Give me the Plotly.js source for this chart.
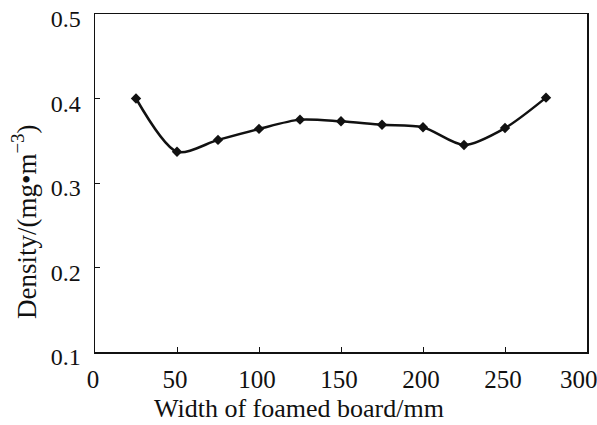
<!DOCTYPE html>
<html><head><meta charset="utf-8">
<script src="https://cdn.plot.ly/plotly-3.0.1.min.js"></script>
<style>body{margin:0}#c{width:597px;height:425px}</style>
</head><body><div id="c"></div>
<script>
const widths = [25, 50, 75, 100, 125, 150, 175, 200, 225, 250, 275];
const density = [0.400, 0.337, 0.351, 0.364, 0.375, 0.373, 0.369, 0.366, 0.345, 0.365, 0.401];
const xTicks = [0, 50, 100, 150, 200, 250, 300];
const yTicks = [0.1, 0.2, 0.3, 0.4, 0.5];
const xTitle = 'Width of foamed board/mm';
const yTitle = 'Density/(mg•m<sup>−3</sup>)';
const fam = 'Liberation Serif, Times New Roman, serif';
const ink = '#111';
Plotly.newPlot('c', [{
  x: widths, y: density, type: 'scatter', mode: 'lines+markers',
  line: {shape: 'spline', smoothing: 0.8, color: ink, width: 2.5},
  marker: {symbol: 'diamond', size: 8, color: ink}
}], {
  width: 597, height: 425,
  margin: {l: 95, r: 10, t: 14, b: 73},
  paper_bgcolor: '#fff', plot_bgcolor: '#fff',
  showlegend: false,
  font: {family: fam, color: ink},
  xaxis: {range: [0, 300], tickvals: xTicks,
    ticktext: xTicks.map(v => v === 300 ? '300\u00a0\u00a0' : String(v)),
    ticks: 'inside', ticklen: 5, tickcolor: ink, showline: true, linecolor: ink, linewidth: 1.5,
    mirror: true, showgrid: false, zeroline: false, ticklabeloverflow: 'allow',
    ticklabelshift: -2, ticklabelstandoff: 4,
    tickfont: {size: 25, family: fam, color: ink}},
  yaxis: {range: [0.1, 0.5], tickvals: yTicks, ticktext: yTicks.map(v => v.toFixed(1)),
    ticks: 'inside', ticklen: 5, tickcolor: ink, showline: true, linecolor: ink, linewidth: 1.5,
    mirror: true, showgrid: false, zeroline: false, ticklabeloverflow: 'allow',
    ticklabelshift: 5, ticklabelstandoff: 8,
    tickfont: {size: 24, family: fam, color: ink}},
  annotations: [
    {text: xTitle, xref: 'paper', yref: 'paper', x: 0.415, y: -0.166,
     xanchor: 'center', yanchor: 'middle', showarrow: false,
     font: {size: 26, family: fam, color: ink}},
    {text: yTitle, xref: 'paper', yref: 'paper', x: -0.144, y: 0.385, textangle: -90,
     xanchor: 'center', yanchor: 'middle', showarrow: false,
     font: {size: 27, family: fam, color: ink}}
  ]
}, {staticPlot: true});
</script></body></html>
